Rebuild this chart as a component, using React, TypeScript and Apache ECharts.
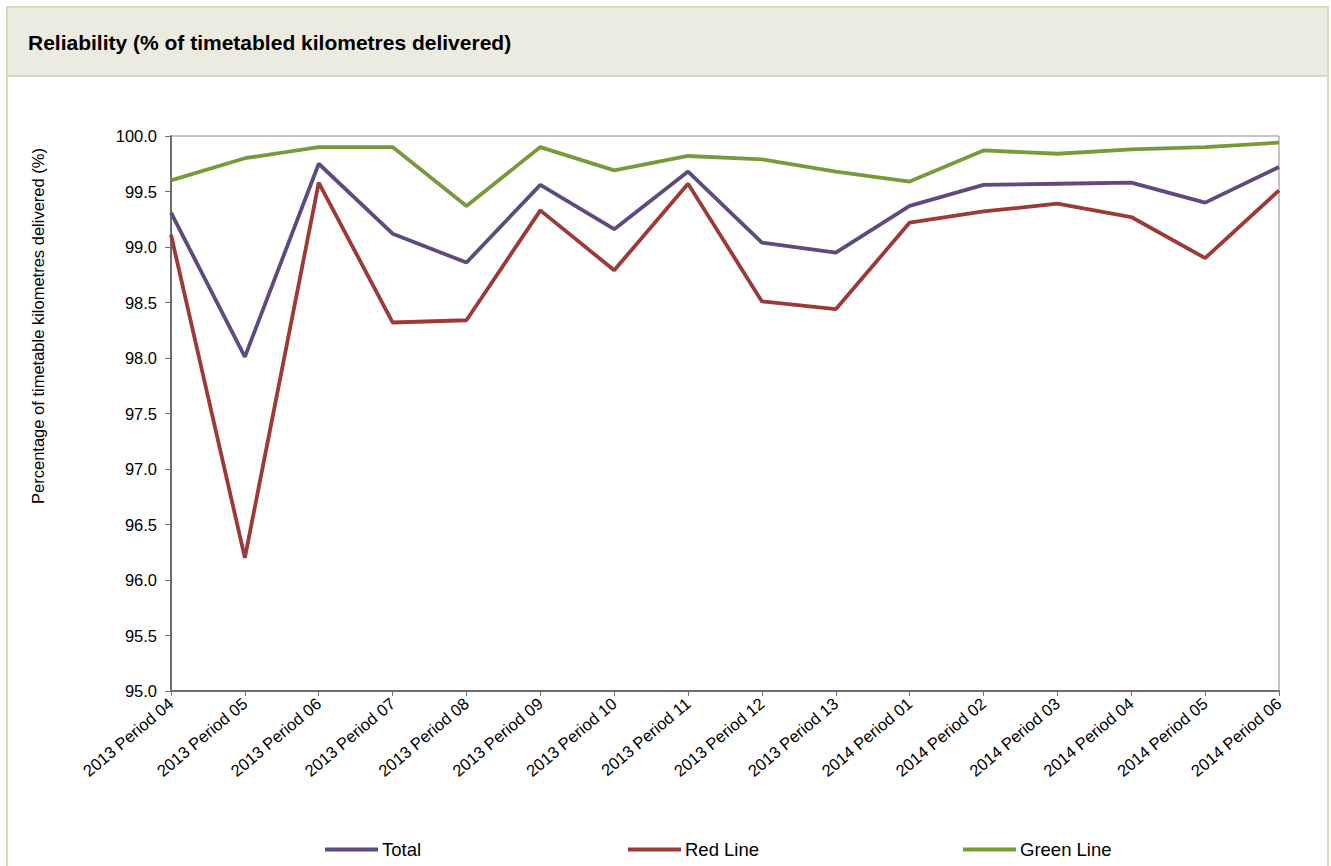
import React, { useEffect, useRef } from "react";
import * as echarts from "echarts";

const categories = [
  "2013 Period 04", "2013 Period 05", "2013 Period 06", "2013 Period 07",
  "2013 Period 08", "2013 Period 09", "2013 Period 10", "2013 Period 11",
  "2013 Period 12", "2013 Period 13", "2014 Period 01", "2014 Period 02",
  "2014 Period 03", "2014 Period 04", "2014 Period 05", "2014 Period 06",
];

const totalValues = [99.31, 98.01, 99.75, 99.12, 98.86, 99.56, 99.16, 99.68, 99.04, 98.95, 99.37, 99.56, 99.57, 99.58, 99.40, 99.72];
const redValues = [99.11, 96.2, 99.58, 98.32, 98.34, 99.33, 98.79, 99.57, 98.51, 98.44, 99.22, 99.32, 99.39, 99.27, 98.9, 99.51];
const greenValues = [99.6, 99.8, 99.9, 99.9, 99.37, 99.9, 99.69, 99.82, 99.79, 99.68, 99.59, 99.87, 99.84, 99.88, 99.9, 99.94];

const seriesNames = ["Total", "Red Line", "Green Line"];
const seriesColors = ["#5f4a7f", "#9b3a38", "#789a3c"];

const FONT = "'Liberation Sans', Arial, sans-serif";

export default function App() {
  const ref = useRef<HTMLDivElement>(null);

  useEffect(() => {
    if (!ref.current) return;
    const chart = echarts.init(ref.current, undefined, { renderer: "svg" });
    const dataSets = [totalValues, redValues, greenValues];
    const legendLefts = [325, 628, 963];
    chart.setOption({
      animation: false,
      backgroundColor: "#ffffff",
      textStyle: { fontFamily: FONT },
      graphic: [
        {
          type: "rect",
          shape: { x: 7, y: 7, width: 1321, height: 880 },
          style: { fill: "#ffffff", stroke: "#ddd7bd", lineWidth: 2 },
          z: -10,
        },
        {
          type: "rect",
          shape: { x: 8, y: 8, width: 1319, height: 68 },
          style: { fill: "#ecebe0", stroke: "none" },
          z: -9,
        },
        {
          type: "line",
          shape: { x1: 8, y1: 76, x2: 1327, y2: 76 },
          style: { stroke: "#ddd8c2", lineWidth: 2 },
          z: -8,
        },
        {
          type: "text",
          x: 38,
          y: 326,
          rotation: Math.PI / 2,
          style: {
            text: "Percentage of timetable kilometres delivered (%)",
            fontFamily: FONT,
            fontSize: 16.5,
            fill: "#000000",
            align: "center",
            verticalAlign: "middle",
          },
        },
      ],
      title: {
        text: "Reliability (% of timetabled kilometres delivered)",
        left: 28,
        top: 32,
        padding: 0,
        textStyle: { fontFamily: FONT, fontSize: 21, fontWeight: "bold", color: "#000000" },
      },
      legend: seriesNames.map((n, i) => ({
        data: [n],
        left: legendLefts[i],
        top: 840,
        padding: 0,
        itemWidth: 53,
        itemHeight: 4,
        icon: "rect",
        itemGap: 0,
        textStyle: { fontFamily: FONT, fontSize: 18.5, color: "#000000", padding: [0, 0, 0, -1] },
      })),
      grid: {
        left: 171,
        right: 52,
        top: 136,
        bottom: 175,
        show: true,
        borderColor: "#8a8a8a",
        borderWidth: 1,
        containLabel: false,
      },
      xAxis: {
        type: "category",
        data: categories,
        boundaryGap: false,
        axisLine: { show: true, lineStyle: { color: "#6e6e6e", width: 2 } },
        axisTick: { show: true, alignWithLabel: true, length: 5, inside: false, lineStyle: { color: "#6e6e6e" } },
        axisLabel: {
          interval: 0,
          rotate: 40,
          margin: 10,
          fontFamily: FONT,
          fontSize: 16.5,
          color: "#000000",
        },
        splitLine: { show: false },
      },
      yAxis: {
        type: "value",
        min: 95,
        max: 100,
        interval: 0.5,
        axisLine: { show: true, lineStyle: { color: "#6e6e6e", width: 2 } },
        axisTick: { show: true, length: 6, inside: false, lineStyle: { color: "#6e6e6e" } },
        axisLabel: {
          fontFamily: FONT,
          fontSize: 16.5,
          color: "#000000",
          margin: 14,
          formatter: (v: number) => v.toFixed(1),
        },
        splitLine: { show: false },
      },
      series: seriesNames.map((n, i) => ({
        name: n,
        type: "line",
        data: dataSets[i],
        symbol: "none",
        showSymbol: false,
        lineStyle: { color: seriesColors[i], width: 3.8 },
        itemStyle: { color: seriesColors[i] },
        z: 5 - i,
      })),
    });
    return () => chart.dispose();
  }, []);

  return (
    <div
      ref={ref}
      style={{ position: "fixed", left: 0, top: 0, width: 1331, height: 866 }}
    />
  );
}
